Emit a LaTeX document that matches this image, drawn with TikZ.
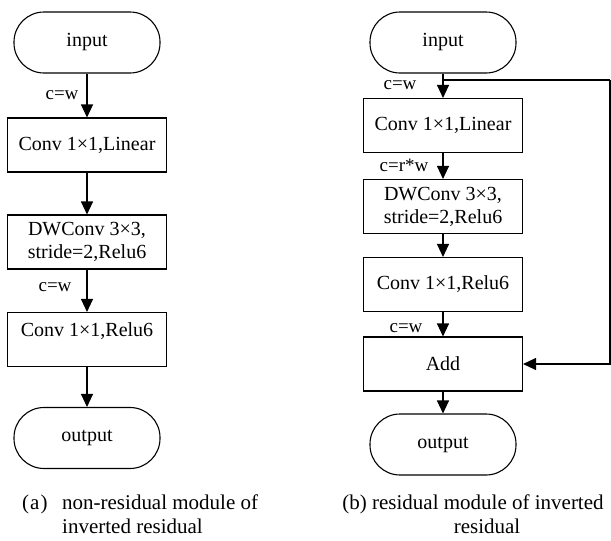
\documentclass[tikz,border=0pt]{standalone}
\usepackage{fontspec}
\setmainfont{Liberation Serif}
\usetikzlibrary{arrows.meta,calc}
\tikzset{
  x=1pt, y=1pt,
  term/.style={draw, line width=1.1pt, rounded corners=30pt, minimum width=146pt, minimum height=61pt, inner sep=0pt, font=\fontsize{20}{23}\selectfont},
  blk/.style={draw, line width=1.1pt, minimum width=159pt, minimum height=54pt, inner sep=0pt, align=center, font=\fontsize{20}{23}\selectfont},
  lbl/.style={inner sep=0pt, font=\fontsize{19}{22}\selectfont},
  captext/.style={inner sep=0pt, anchor=base, font=\fontsize{21}{24}\selectfont},
  arr/.style={line width=1.1pt, -{Triangle[width=12pt,length=13pt]}},
  ln/.style={line width=1.1pt}
}
\begin{document}
\begin{tikzpicture}
\useasboundingbox (0,0) rectangle (611,-541);

% ---- (a) non-residual module ----
\node[term] (ain)  at (87,-42.5) {input};
\node[blk]  (a1)   at (87,-145)  {Conv 1×1,Linear};
\node[blk]  (a2)   at (87,-242)  {DWConv 3×3,\\stride=2,Relu6};
\node[blk]  (a3)   at (87,-339.5) {};
\node[lbl, font=\fontsize{20}{23}\selectfont] (a3t) at ($(a3.north)+(0,-19)$) {Conv 1×1,Relu6};
\node[term] (aout) at (87,-438) {output};

\draw[arr] (ain) -- (a1);
\draw[arr] (a1) -- (a2);
\draw[arr] (a2) -- (a3);
\draw[arr] (a3) -- (aout);

\node[lbl] (ac1) at (62,-95)  {c=w};
\node[lbl] (ac2) at (55,-287) {c=w};

% ---- (b) residual module ----
\node[term] (bin)  at (443,-42.5) {input};
\node[blk]  (b1)   at (443,-125.5) {Conv 1×1,Linear};
\node[blk]  (b2)   at (443,-206.5) {DWConv 3×3,\\stride=2,Relu6};
\node[blk]  (b3)   at (443,-284.5) {Conv 1×1,Relu6};
\node[blk]  (badd) at (443,-364) {Add};
\node[term] (bout) at (443,-444.5) {output};

\draw[arr] (bin) -- (b1);
\draw[arr] (b1) -- (b2);
\draw[arr] (b2) -- (b3);
\draw[arr] (b3) -- (badd);
\draw[arr] (badd) -- (bout);

% shortcut connection
\coordinate (bs) at (443,-80);
\coordinate (br) at (610,-80);
\draw[ln] (bs) -- (br);
\draw[arr] (br) |- (badd.east);

\node[lbl] (bc1) at (400,-85)  {c=w};
\node[lbl] (bc2) at (404,-165) {c=r*w};
\node[lbl] (bc3) at (406,-328) {c=w};

% ---- captions ----
\node[captext, anchor=base west] (capa1) at (22,-509) {\makebox[40pt][l]{(\kern1pt a\kern1pt)}non-residual module of};
\node[captext, anchor=base west] (capa2) at (62,-533) {inverted residual};
\node[captext] (capb1) at (473,-509) {(b) residual module of inverted};
\node[captext] (capb2) at (487,-533) {residual};
\end{tikzpicture}
\end{document}
